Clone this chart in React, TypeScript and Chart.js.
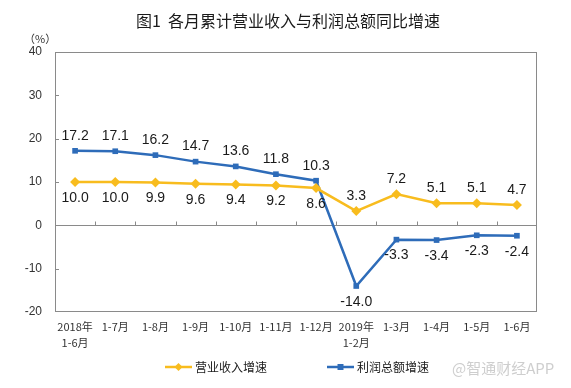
import React, { useEffect, useRef } from 'react';
import { Chart, registerables } from 'chart.js';

Chart.register(...registerables);

const categories: (string | string[])[] = [
  ['2018年', '1-6月'], '1-7月', '1-8月', '1-9月', '1-10月', '1-11月', '1-12月',
  ['2019年', '1-2月'], '1-3月', '1-4月', '1-5月', '1-6月',
];
const revenueGrowth = [10.0, 10.0, 9.9, 9.6, 9.4, 9.2, 8.6, 3.3, 7.2, 5.1, 5.1, 4.7];
const profitGrowth = [17.2, 17.1, 16.2, 14.7, 13.6, 11.8, 10.3, -14.0, -3.3, -3.4, -2.3, -2.4];
const yMin = -20;
const yMax = 40;
const yStep = 10;
const seriesNames = ['营业收入增速', '利润总额增速'];
const titleText = '图1  各月累计营业收入与利润总额同比增速';
const unitText = '（%）';
const watermarkText = '@智通财经APP';

const YELLOW = '#F8BC1E';
const BLUE = '#2E6CB9';
const FRAME = '#8a8a8a';
const TEXT = '#1a1a1a';
const CJK = '"Noto Sans CJK SC", "Noto Sans", sans-serif';
const LAT = '"Liberation Sans", Arial, sans-serif';

const decorPlugin = {
  id: 'decor',
  beforeDatasetsDraw(chart: any) {
    const { ctx, chartArea, scales } = chart;
    const { left, right, top, bottom } = chartArea;
    const x = scales.x;
    const y = scales.y;
    ctx.save();
    ctx.strokeStyle = FRAME;
    ctx.lineWidth = 1;
    ctx.strokeRect(Math.round(left) + 0.5, Math.round(top) + 0.5, Math.round(right - left) - 1, Math.round(bottom - top) - 1);
    const y0 = Math.round(y.getPixelForValue(0)) + 0.5;
    ctx.beginPath();
    ctx.moveTo(left, y0);
    ctx.lineTo(right, y0);
    for (let i = 1; i < categories.length; i++) {
      const xb = Math.round((x.getPixelForValue(i - 1) + x.getPixelForValue(i)) / 2) + 0.5;
      ctx.moveTo(xb, y0);
      ctx.lineTo(xb, y0 - 4);
    }
    for (let v = yMin + yStep; v < yMax; v += yStep) {
      const yy = Math.round(y.getPixelForValue(v)) + 0.5;
      ctx.moveTo(left, yy);
      ctx.lineTo(left + 4, yy);
    }
    ctx.stroke();
    ctx.restore();
  },
  afterDatasetsDraw(chart: any) {
    const { ctx } = chart;
    ctx.save();
    ctx.font = `14px ${LAT}`;
    ctx.fillStyle = TEXT;
    ctx.textAlign = 'center';
    ctx.textBaseline = 'middle';
    const sets = [revenueGrowth, profitGrowth];
    sets.forEach((vals, di) => {
      const other = sets[1 - di];
      const meta = chart.getDatasetMeta(di);
      meta.data.forEach((pt: any, i: number) => {
        const above = vals[i] > other[i];
        const dy = above ? -15 : 16;
        ctx.fillText(vals[i].toFixed(1), pt.x, pt.y + dy);
      });
    });
    ctx.restore();
  },
  afterDraw(chart: any) {
    const { ctx, chartArea } = chart;
    const cx = (chartArea.left + chartArea.right) / 2;
    ctx.save();
    // title
    ctx.fillStyle = TEXT;
    ctx.font = `16px ${CJK}`;
    ctx.textAlign = 'center';
    ctx.textBaseline = 'middle';
    ctx.fillText(titleText, 288, 21);
    // unit
    ctx.font = `11px ${CJK}`;
    ctx.textAlign = 'left';
    ctx.fillStyle = '#333';
    ctx.fillText(unitText, 24, 39);
    // legend
    const ly = 367;
    const items = [
      { name: seriesNames[0], color: YELLOW, style: 'diamond', x0: cx - 131 },
      { name: seriesNames[1], color: BLUE, style: 'square', x0: cx + 31 },
    ];
    items.forEach((it) => {
      ctx.strokeStyle = it.color;
      ctx.lineWidth = 2.5;
      ctx.beginPath();
      ctx.moveTo(it.x0, ly);
      ctx.lineTo(it.x0 + 27, ly);
      ctx.stroke();
      ctx.fillStyle = it.color;
      const mx = it.x0 + 13.5;
      ctx.beginPath();
      if (it.style === 'diamond') {
        ctx.moveTo(mx, ly - 4);
        ctx.lineTo(mx + 4, ly);
        ctx.lineTo(mx, ly + 4);
        ctx.lineTo(mx - 4, ly);
        ctx.closePath();
      } else {
        ctx.rect(mx - 3, ly - 3, 6, 6);
      }
      ctx.fill();
      ctx.fillStyle = TEXT;
      ctx.font = `12px ${CJK}`;
      ctx.textAlign = 'left';
      ctx.fillText(it.name, it.x0 + 30, ly);
    });
    // watermark
    ctx.font = `15px ${CJK}`;
    ctx.fillStyle = 'rgba(190,190,190,0.75)';
    ctx.textAlign = 'left';
    ctx.fillText(watermarkText, 452, 368);
    ctx.restore();
  },
};

export default function App() {
  const ref = useRef<HTMLCanvasElement>(null);
  useEffect(() => {
    if (!ref.current) return;
    const chart = new Chart(ref.current, {
      type: 'line',
      data: {
        labels: categories as any,
        datasets: [
          {
            label: seriesNames[0],
            data: revenueGrowth,
            borderColor: YELLOW,
            backgroundColor: YELLOW,
            borderWidth: 2.5,
            pointStyle: 'rectRot',
            pointRadius: 5,
            pointBorderWidth: 0,
            tension: 0,
          },
          {
            label: seriesNames[1],
            data: profitGrowth,
            borderColor: BLUE,
            backgroundColor: BLUE,
            borderWidth: 2.5,
            pointStyle: 'rect',
            pointRadius: 4,
            pointBorderWidth: 0,
            tension: 0,
          },
        ],
      },
      options: {
        responsive: false,
        animation: false,
        devicePixelRatio: 1,
        layout: { padding: { left: 0, right: 34, top: 52, bottom: 31 } },
        plugins: { legend: { display: false }, tooltip: { enabled: false }, title: { display: false } },
        scales: {
          x: {
            type: 'category',
            offset: true,
            grid: { display: false, drawTicks: false },
            border: { display: false },
            ticks: {
              autoSkip: false,
              maxRotation: 0,
              padding: 7,
              color: '#333',
              font: { family: CJK, size: 11, lineHeight: 1.45 },
            },
            afterFit: (s: any) => { s.height = 45; },
          },
          y: {
            min: yMin,
            max: yMax,
            ticks: { stepSize: yStep, padding: 13, color: '#333', font: { family: LAT, size: 12 } },
            grid: { display: false, drawTicks: false },
            border: { display: false },
            afterFit: (s: any) => { s.width = 55; },
          },
        },
      },
      plugins: [decorPlugin],
    });
    return () => chart.destroy();
  }, []);
  return (
    <div style={{ position: 'fixed', left: 0, top: 0, width: 571, height: 388, background: '#fff' }}>
      <canvas ref={ref} width={571} height={388} style={{ width: 571, height: 388 }} />
    </div>
  );
}
